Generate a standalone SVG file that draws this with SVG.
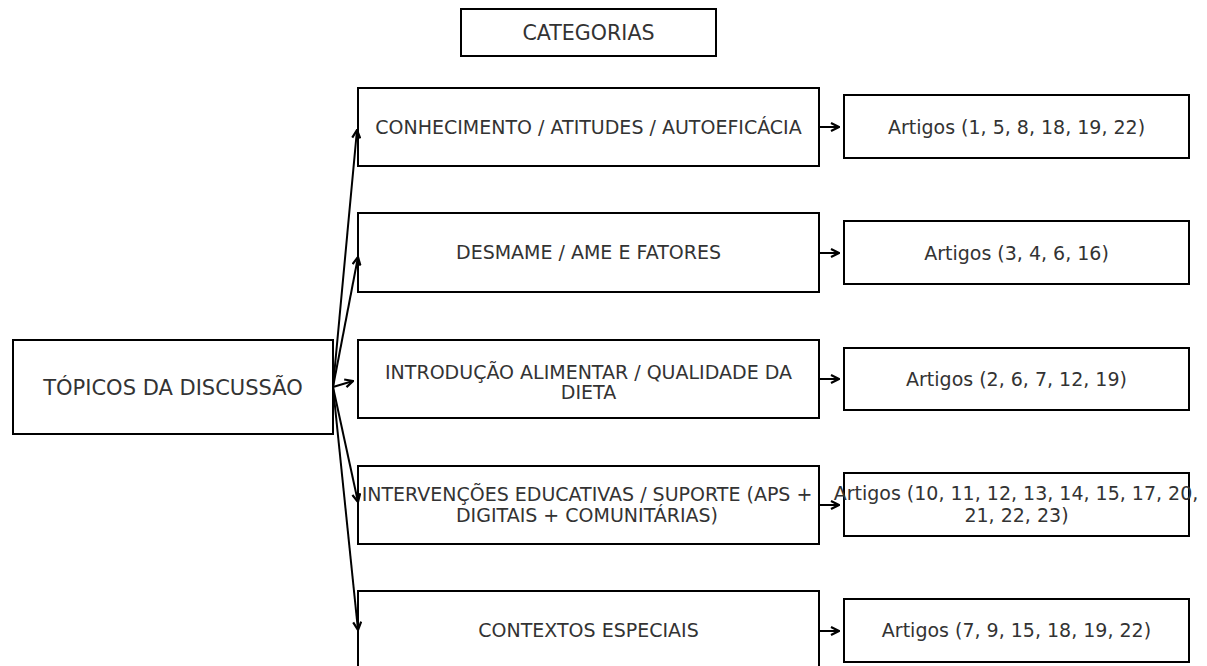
<svg xmlns="http://www.w3.org/2000/svg" width="1207" height="666" viewBox="0 0 1207 666">
<defs>
<marker id="ah" viewBox="0 0 10 10" refX="9" refY="5" markerWidth="10" markerHeight="10" markerUnits="userSpaceOnUse" orient="auto">
<path d="M1,1 L9,5 L1,9" fill="none" stroke="#000" stroke-width="2.2"/>
</marker>
</defs>
<style>
rect{fill:#fff;stroke:#000;stroke-width:2}
text{font-family:"DejaVu Sans",sans-serif;font-size:19px;fill:#333;text-anchor:middle}
.big{font-size:20.6px}
.huge{font-size:21px}
.c line{stroke:#000;stroke-width:2;marker-end:url(#ah)}
</style>
<rect x="0" y="0" width="1207" height="666" style="stroke:none"/>
<g id="categorias"><rect x="461" y="9" width="255" height="47"/><text class="big" x="588.5" y="39.5">CATEGORIAS</text></g>
<g id="topicos"><rect x="13" y="340" width="320" height="94"/><text class="huge" x="173" y="394.5">TÓPICOS DA DISCUSSÃO</text></g>
<g id="m1"><rect x="358" y="88" width="461" height="78"/><text x="588.5" y="134">CONHECIMENTO / ATITUDES / AUTOEFICÁCIA</text></g>
<g id="m2"><rect x="358" y="213" width="461" height="79"/><text x="588.5" y="259">DESMAME / AME E FATORES</text></g>
<g id="m3"><rect x="358" y="340" width="461" height="78"/><text x="588.5" y="379">INTRODUÇÃO ALIMENTAR / QUALIDADE DA</text><text x="588.5" y="399">DIETA</text></g>
<g id="m4"><rect x="358" y="466" width="461" height="78"/><text x="587" y="501">INTERVENÇÕES EDUCATIVAS / SUPORTE (APS +</text><text x="587" y="522">DIGITAIS + COMUNITÁRIAS)</text></g>
<g id="m5"><rect x="358" y="591" width="461" height="78"/><text x="588.5" y="637">CONTEXTOS ESPECIAIS</text></g>
<g id="r1"><rect x="844" y="95" width="345" height="63"/><text x="1016.5" y="133.5">Artigos (1, 5, 8, 18, 19, 22)</text></g>
<g id="r2"><rect x="844" y="221" width="345" height="63"/><text x="1016.5" y="259.5">Artigos (3, 4, 6, 16)</text></g>
<g id="r3"><rect x="844" y="348" width="345" height="62"/><text x="1016.5" y="386">Artigos (2, 6, 7, 12, 19)</text></g>
<g id="r4"><rect x="844" y="473" width="345" height="63"/><text x="1016" y="500">Artigos (10, 11, 12, 13, 14, 15, 17, 20,</text><text x="1016.5" y="522">21, 22, 23)</text></g>
<g id="r5"><rect x="844" y="599" width="345" height="63"/><text x="1016.5" y="637">Artigos (7, 9, 15, 18, 19, 22)</text></g>
<g class="c" id="connectors">
<line x1="333" y1="387" x2="357" y2="130"/>
<line x1="333" y1="387" x2="358" y2="257"/>
<line x1="333" y1="387" x2="353" y2="381"/>
<line x1="333" y1="387" x2="358" y2="502"/>
<line x1="333" y1="387" x2="358" y2="630"/>
<line x1="820" y1="127" x2="839" y2="127"/>
<line x1="820" y1="253" x2="839" y2="253"/>
<line x1="820" y1="379" x2="839" y2="379"/>
<line x1="820" y1="505" x2="839" y2="505"/>
<line x1="820" y1="631" x2="839" y2="631"/>
</g>
</svg>
